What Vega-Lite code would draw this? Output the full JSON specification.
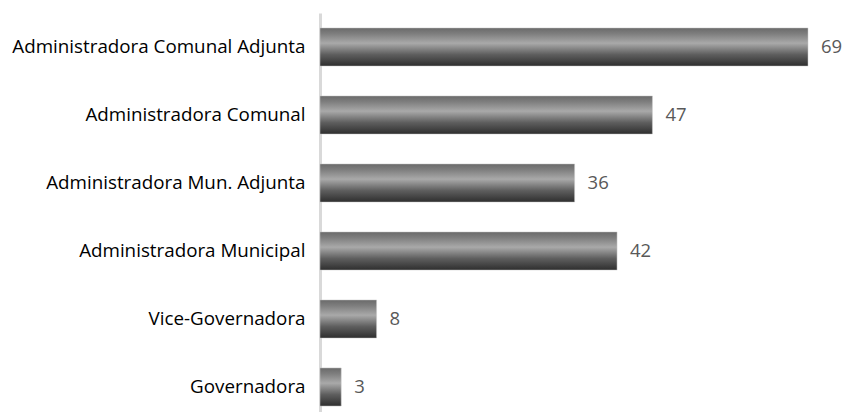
{
  "$schema": "https://vega.github.io/schema/vega-lite/v6.json",
  "width": 488,
  "height": 408,
  "autosize": {"type": "none"},
  "padding": {"left": 320, "top": 13, "right": 36, "bottom": 0},
  "background": "white",
  "config": {"view": {"stroke": null}, "font": "Open Sans"},
  "data": {
    "values": [
      {"cargo": "Administradora Comunal Adjunta", "valor": 69},
      {"cargo": "Administradora Comunal", "valor": 47},
      {"cargo": "Administradora Mun. Adjunta", "valor": 36},
      {"cargo": "Administradora Municipal", "valor": 42},
      {"cargo": "Vice-Governadora", "valor": 8},
      {"cargo": "Governadora", "valor": 3}
    ]
  },
  "encoding": {
    "y": {
      "field": "cargo",
      "type": "nominal",
      "sort": null,
      "scale": {"paddingInner": 0.44, "paddingOuter": 0.22},
      "axis": {
        "title": null,
        "ticks": false,
        "domainColor": "#d9d9d9",
        "domainWidth": 3,
        "labelFont": "Open Sans",
        "labelFontSize": 18.8,
        "labelColor": "#000000",
        "labelPadding": 15,
        "labelLimit": 400
      }
    },
    "x": {
      "field": "valor",
      "type": "quantitative",
      "scale": {"domain": [0, 69], "nice": false},
      "axis": null
    }
  },
  "layer": [
    {
      "mark": {
        "type": "bar",
        "stroke": "#c8c8c8",
        "strokeWidth": 0.5,
        "color": {
          "gradient": "linear",
          "x1": 0, "y1": 0, "x2": 0, "y2": 1,
          "stops": [
            {"offset": 0, "color": "#6a6a6a"},
            {"offset": 0.15, "color": "#7e7e7e"},
            {"offset": 0.4, "color": "#a9a9a9"},
            {"offset": 0.7, "color": "#5e5e5e"},
            {"offset": 1, "color": "#2e2e2e"}
          ]
        }
      }
    },
    {
      "mark": {
        "type": "text",
        "align": "left",
        "baseline": "middle",
        "dx": 13,
        "font": "Open Sans",
        "fontSize": 18.5,
        "color": "#595959"
      },
      "encoding": {"text": {"field": "valor", "type": "quantitative"}}
    }
  ]
}
